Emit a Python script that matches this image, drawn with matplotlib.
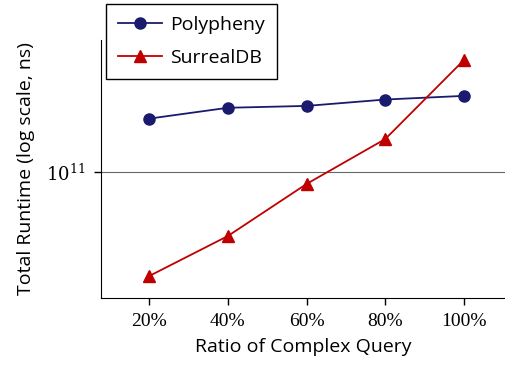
import numpy as np
import matplotlib.pyplot as plt
from matplotlib.ticker import FixedLocator, NullLocator

ratios = ['20%', '40%', '60%', '80%', '100%']
polypheny = [1.92e11, 2.19e11, 2.24e11, 2.42e11, 2.53e11]
surrealdb = [2.85e10, 4.63e10, 8.7e10, 1.5e11, 3.91e11]

plt.rcParams['font.family'] = ['Open Sans', 'DejaVu Sans']
plt.rcParams['mathtext.fontset'] = 'dejavuserif'

fig = plt.figure(figsize=(5.05, 3.7), dpi=100)
ax = fig.add_axes([0.2, 0.195, 0.8, 0.697])

x = np.arange(len(ratios))
ax.plot(x, polypheny, color='#1a1a6e', marker='o', markersize=8, lw=1.3, label='Polypheny')
ax.plot(x, surrealdb, color='#c00000', marker='^', markersize=8, lw=1.3, label='SurrealDB')

ax.set_yscale('log')
ax.set_ylim(2.19e10, 4.98e11)
ax.set_xlim(-0.61, 4.52)
ax.yaxis.set_major_locator(FixedLocator([1e11]))
ax.yaxis.set_minor_locator(NullLocator())
ax.set_yticks([1e11])
ax.set_yticklabels([r'$10^{11}$'], fontsize=13, family='Liberation Serif')
ax.set_xticks(x)
ax.set_xticklabels(ratios, fontsize=14, family='Liberation Serif')
ax.axhline(1e11, color='#666666', lw=0.8, zorder=0)

for s in ['top', 'right']:
    ax.spines[s].set_visible(False)
ax.tick_params(direction='out', length=5, width=1, pad=6)

ax.set_xlabel('Ratio of Complex Query', fontsize=14, labelpad=6)
ax.set_ylabel('Total Runtime (log scale, ns)', fontsize=14, labelpad=8)

leg = fig.legend(loc='upper left', bbox_to_anchor=(0.21, 0.989), fontsize=14,
                 handlelength=2.3, handletextpad=0.4, fancybox=False,
                 edgecolor='black', framealpha=1,
                 borderpad=0.6, labelspacing=0.8, borderaxespad=0)
leg.get_frame().set_linewidth(1)

fig.savefig('out.png', dpi=100)
